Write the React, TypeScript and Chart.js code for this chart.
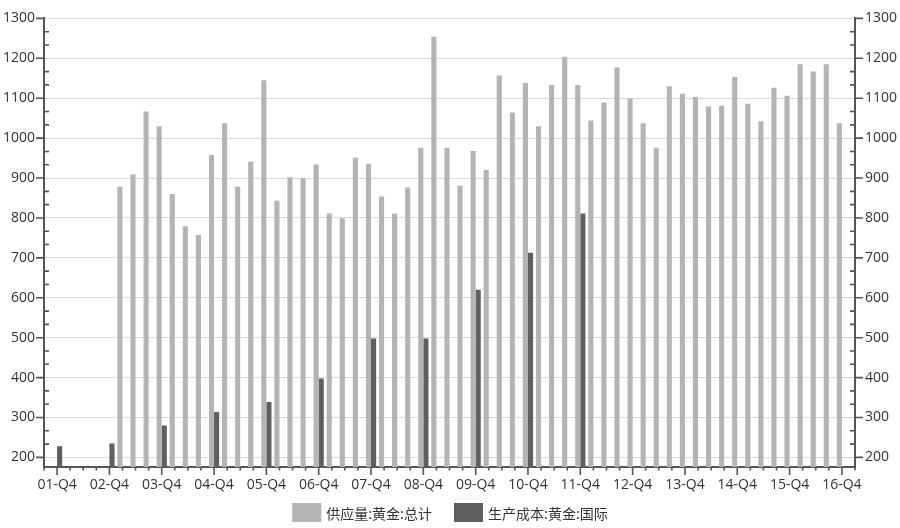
import React, { useEffect, useRef } from 'react';
import { Chart, registerables } from 'chart.js';

Chart.register(...registerables);

// ---- data ----
const years = ['01', '02', '03', '04', '05', '06', '07', '08', '09', '10', '11', '12', '13', '14', '15', '16'];
const quarterNames = ['Q1', 'Q2', 'Q3', 'Q4'];
// axis categories: 01-Q3 ... 17-Q1 (first/last are empty padding quarters)
const categories: string[] = ['01-Q3', '01-Q4'];
years.slice(1).forEach((y) => quarterNames.forEach((q) => categories.push(`${y}-${q}`)));
categories.push('17-Q1');

const supplyLabel = '供应量:黄金:总计';
const supplyStart = '03-Q1';
const supplyValues = [
  878, 909, 1067, 1030, // 03
  860, 779, 757, 958, // 04
  1037, 878, 941, 1145, // 05
  843, 902, 900, 934, // 06
  811, 799, 951, 936, // 07
  854, 811, 876, 976, // 08
  1254, 976, 881, 968, // 09
  920, 1157, 1064, 1138, // 10
  1030, 1133, 1204, 1133, // 11
  1044, 1089, 1177, 1100, // 12
  1037, 976, 1130, 1111, // 13
  1103, 1079, 1081, 1153, // 14
  1086, 1042, 1126, 1106, // 15
  1185, 1167, 1185, 1037, // 16
];

const costLabel = '生产成本:黄金:国际';
const costQuarters = ['01-Q4', '02-Q4', '03-Q4', '04-Q4', '05-Q4', '06-Q4', '07-Q4', '08-Q4', '09-Q4', '10-Q4', '11-Q4'];
const costValues = [228, 235, 280, 314, 339, 398, 498, 498, 620, 713, 811];

const yMin = 176;
const yMax = 1300;
const yTickValues = [200, 300, 400, 500, 600, 700, 800, 900, 1000, 1100, 1200, 1300];
const yMinorStep = 100 / 3;

// ---- styles ----
const LIGHT = '#b4b4b4';
const DARK = '#5f5f5f';
const AXIS = '#555555';
const GRID = '#d9d9d9';
const TEXT = '#333333';
const AXIS_FONT = '"Open Sans", "Noto Sans CJK SC", sans-serif';
const LEGEND_FONT = '"Noto Sans CJK SC", sans-serif';

const supplyData = categories.map((c) => {
  const i = categories.indexOf(c) - categories.indexOf(supplyStart);
  return i >= 0 && i < supplyValues.length ? supplyValues[i] : null;
});
const costData = categories.map((c) => {
  const i = costQuarters.indexOf(c);
  return i >= 0 ? costValues[i] : null;
});

const tickMarksPlugin = {
  id: 'tickMarks',
  afterDraw(chart: any) {
    const { ctx, chartArea, scales } = chart;
    const x = scales.x;
    const y = scales.y;
    ctx.save();
    ctx.strokeStyle = AXIS;
    ctx.lineWidth = 1.6;
    ctx.beginPath();
    const n = Math.round((yMax - yTickValues[0]) / yMinorStep);
    for (let k = 0; k <= n; k++) {
      const v = yTickValues[0] + k * yMinorStep;
      const py = y.getPixelForValue(v);
      const major = k % 3 === 0;
      if (major) {
        ctx.moveTo(chartArea.left - 8, py);
        ctx.lineTo(chartArea.left, py);
        ctx.moveTo(chartArea.right, py);
        ctx.lineTo(chartArea.right + 8, py);
      } else {
        ctx.moveTo(chartArea.left, py);
        ctx.lineTo(chartArea.left + 5, py);
        ctx.moveTo(chartArea.right - 5, py);
        ctx.lineTo(chartArea.right, py);
      }
    }
    categories.forEach((c, i) => {
      const px = x.getPixelForValue(i);
      const major = c.endsWith('Q4');
      ctx.moveTo(px, chartArea.bottom);
      ctx.lineTo(px, chartArea.bottom + (major ? 8 : 3.5));
    });
    ctx.stroke();
    ctx.restore();
  },
};

const bottomLegendPlugin = {
  id: 'bottomLegend',
  afterDraw(chart: any) {
    const { ctx } = chart;
    const items = chart.data.datasets.map((ds: any) => ({ text: ds.label, color: ds.backgroundColor }));
    const boxW = 29;
    const boxH = 19;
    const gapText = 5;
    const gapItem = 22;
    ctx.save();
    ctx.font = `14px ${LEGEND_FONT}`;
    const widths = items.map((it: any) => boxW + gapText + ctx.measureText(it.text).width);
    const total = widths.reduce((a: number, b: number) => a + b, 0) + gapItem * (items.length - 1);
    let xPos = (chart.width - total) / 2;
    const cy = chart.height - 15.5;
    ctx.textBaseline = 'middle';
    ctx.textAlign = 'left';
    items.forEach((it: any, i: number) => {
      ctx.fillStyle = it.color;
      ctx.fillRect(xPos, cy - boxH / 2, boxW, boxH);
      ctx.fillStyle = TEXT;
      ctx.fillText(it.text, xPos + boxW + gapText, cy + 1);
      xPos += widths[i] + gapItem;
    });
    ctx.restore();
  },
};

export default function App() {
  const canvasRef = useRef<HTMLCanvasElement | null>(null);

  useEffect(() => {
    document.body.style.margin = '0';
    const canvas = canvasRef.current;
    if (!canvas) return;
    const setTicks = (scale: any) => {
      scale.ticks = yTickValues.map((v) => ({ value: v }));
    };
    const plainNumber = (v: any) => String(v);
    const chart = new Chart(canvas, {
      type: 'bar',
      data: {
        labels: categories,
        datasets: [
          {
            label: supplyLabel,
            data: supplyData,
            backgroundColor: LIGHT,
            borderWidth: 0,
            categoryPercentage: 0.78,
            barPercentage: 1,
            yAxisID: 'y',
          },
          {
            label: costLabel,
            data: costData,
            backgroundColor: DARK,
            borderWidth: 0,
            categoryPercentage: 0.78,
            barPercentage: 1,
            yAxisID: 'y',
          },
        ],
      },
      options: {
        animation: false,
        responsive: false,
        layout: { padding: { top: 11, bottom: 31, left: 0, right: 0 } },
        plugins: {
          legend: { display: false },
          tooltip: { enabled: false },
        },
        scales: {
          x: {
            type: 'category',
            offset: false,
            grid: { display: false, drawTicks: false },
            border: { display: true, color: AXIS, width: 2 },
            ticks: {
              autoSkip: false,
              maxRotation: 0,
              minRotation: 0,
              padding: 10,
              color: TEXT,
              font: { size: 14, family: AXIS_FONT },
              callback: (_v: any, i: number) => (categories[i].endsWith('Q4') ? categories[i] : ''),
            },
            afterFit: (scale: any) => {
              scale.height = 30;
            },
          },
          y: {
            type: 'linear',
            position: 'left',
            min: yMin,
            max: yMax,
            afterBuildTicks: setTicks,
            grid: { color: GRID, lineWidth: 1, drawTicks: false },
            border: { display: true, color: AXIS, width: 2 },
            ticks: { padding: 9, color: TEXT, font: { size: 14, family: AXIS_FONT }, callback: plainNumber },
            afterFit: (scale: any) => {
              scale.width = 44;
            },
          },
          y2: {
            type: 'linear',
            position: 'right',
            min: yMin,
            max: yMax,
            afterBuildTicks: setTicks,
            grid: { drawOnChartArea: false, drawTicks: false },
            border: { display: true, color: AXIS, width: 2 },
            ticks: { padding: 10, color: TEXT, font: { size: 14, family: AXIS_FONT }, callback: plainNumber },
            afterFit: (scale: any) => {
              scale.width = 45;
            },
          },
        },
      },
      plugins: [tickMarksPlugin, bottomLegendPlugin],
    });
    return () => chart.destroy();
  }, []);

  return (
    <div style={{ width: 900, height: 528 }}>
      <canvas ref={canvasRef} width={900} height={528} style={{ display: 'block' }} />
    </div>
  );
}
